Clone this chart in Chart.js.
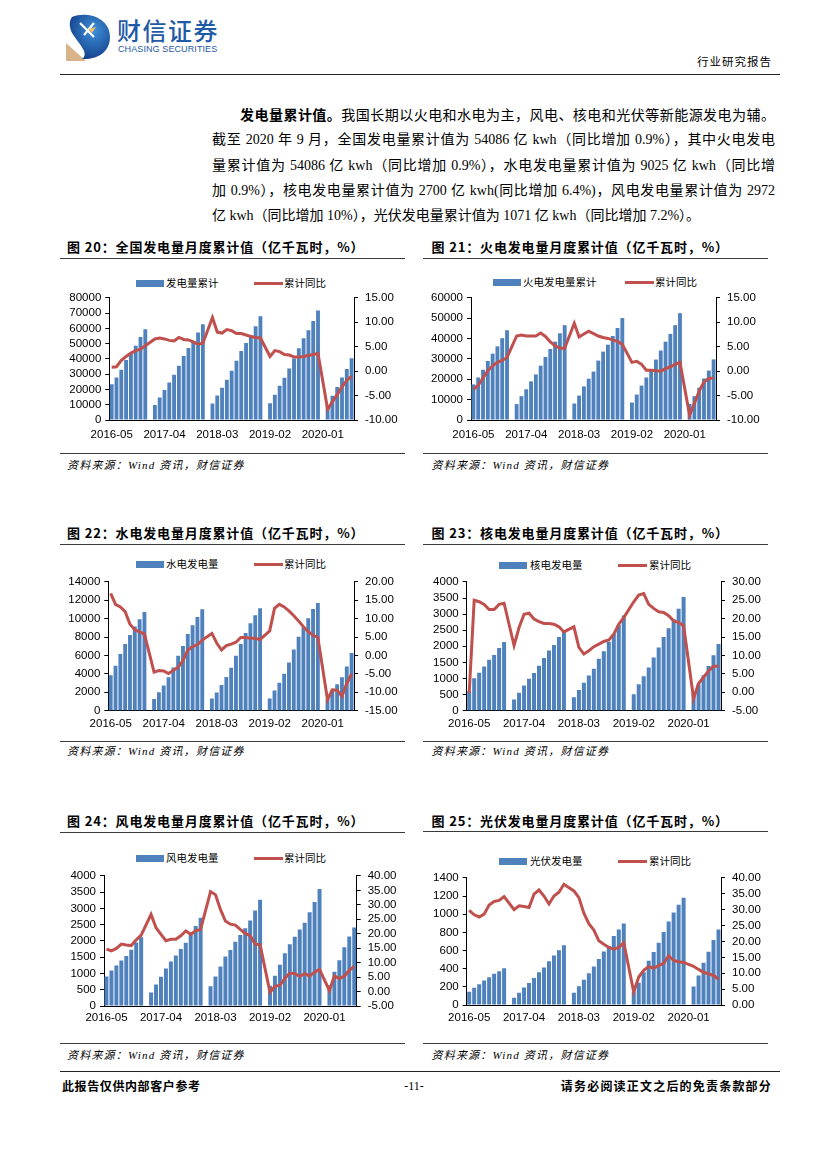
<!DOCTYPE html>
<html>
<head>
<meta charset="utf-8">
<script src="https://cdn.jsdelivr.net/npm/chart.js@4.4.0/dist/chart.umd.min.js"></script>
<style>
  body { margin: 0; background: #fff; }
  #page { position: relative; width: 827px; height: 1170px; overflow: hidden; color: #000;
          font-family: "Liberation Serif", "Noto Sans CJK SC", serif; }
  .rule { position: absolute; height: 0; border-top: 1.5px solid #3a3a3a; }
  .title { position: absolute; font-family: "Noto Sans CJK SC", sans-serif; font-weight: 700;
           font-size: 13px; letter-spacing: 0.85px; line-height: 16px; white-space: nowrap; }
  .src { position: absolute; font-family: "Liberation Serif", "Noto Sans CJK SC", serif; font-style: italic;
         font-size: 11px; letter-spacing: 1.2px; line-height: 14px; white-space: nowrap; }
  .lg { position: absolute; font-family: "Noto Sans CJK SC", sans-serif; font-size: 10.5px;
        line-height: 14px; white-space: nowrap; }
  .sw { position: absolute; }
  .para { position: absolute; left: 212px; top: 102px; width: 563px; font-size: 14px; }
  .para div { height: 25.3px; line-height: 25.3px; text-align: justify; text-align-last: justify; white-space: nowrap; }
  .para b { font-family: "Noto Sans CJK SC", sans-serif; font-weight: 700; }
  canvas { position: absolute; }
</style>
</head>
<body>
<div id="page">
  <!-- header -->
  <svg style="position:absolute;left:66px;top:13px" width="46" height="48" viewBox="0 0 46 48">
    <defs>
      <radialGradient id="lg1" cx="0.6" cy="0.35" r="0.7">
        <stop offset="0" stop-color="#3f8fd8"/>
        <stop offset="1" stop-color="#123f8a"/>
      </radialGradient>
    </defs>
    <polygon points="0,30 0,48 20,48" fill="#d9b48a"/>
    <path d="M6,4 C20,-2 44,4 44,24 C44,40 30,47 16,46 C24,40 12,30 6,20 C3,14 3,8 6,4 Z" fill="url(#lg1)"/>
    <path d="M14,10 L28,24 M28,10 L18,22" stroke="#fff" stroke-width="2.2" fill="none"/>
    <path d="M22,16 L30,14 L26,20 Z" fill="#f0c070"/>
  </svg>
  <div style="position:absolute;left:117px;top:15px;font-family:'Noto Sans CJK SC';font-size:24px;font-weight:500;letter-spacing:1.5px;color:#1f5aa6;line-height:30px">财信证券</div>
  <div style="position:absolute;left:118px;top:44px;font-family:'Liberation Sans',Arial;font-size:9px;color:#1f5aa6;line-height:11px;letter-spacing:0.1px">CHASING SECURITIES</div>
  <div style="position:absolute;right:55px;top:53px;font-family:'Noto Sans CJK SC';font-size:11.5px;line-height:16px;letter-spacing:1px">行业研究报告</div>
  <div class="rule" style="left:60px;width:720px;top:74px;border-top-width:1.6px;border-color:#222"></div>

  <div class="para">
    <div style="padding-left:28px"><b>发电量累计值。</b>我国长期以火电和水电为主，风电、核电和光伏等新能源发电为辅。</div>
    <div>截至 2020 年 9 月，全国发电量累计值为 54086 亿 kwh（同比增加 0.9%），其中火电发电</div>
    <div>量累计值为 54086 亿 kwh（同比增加 0.9%），水电发电量累计值为 9025 亿 kwh（同比增</div>
    <div>加 0.9%），核电发电量累计值为 2700 亿 kwh(同比增加 6.4%)，风电发电量累计值为 2972</div>
    <div style="text-align-last:left">亿 kwh（同比增加 10%），光伏发电量累计值为 1071 亿 kwh（同比增加 7.2%）。</div>
  </div>

  <div class="rule" style="left:60px;width:720px;top:1071px;border-color:#222"></div>
  <div style="position:absolute;left:62px;top:1078px;font-family:'Noto Sans CJK SC';font-weight:700;font-size:12px;letter-spacing:0.6px;line-height:16px">此报告仅供内部客户参考</div>
  <div style="position:absolute;left:400px;top:1078px;width:28px;text-align:center;font-size:12px;line-height:16px">-11-</div>
  <div style="position:absolute;right:55px;top:1078px;font-family:'Noto Sans CJK SC';font-weight:700;font-size:12px;letter-spacing:1.2px;line-height:16px">请务必阅读正文之后的免责条款部分</div>
</div>

<script>
const months = [
  "2016-05", "2016-06", "2016-07", "2016-08", "2016-09", "2016-10", "2016-11", "2016-12",
  "2017-01", "2017-02", "2017-03", "2017-04", "2017-05", "2017-06", "2017-07", "2017-08",
  "2017-09", "2017-10", "2017-11", "2017-12", "2018-01", "2018-02", "2018-03", "2018-04",
  "2018-05", "2018-06", "2018-07", "2018-08", "2018-09", "2018-10", "2018-11", "2018-12",
  "2019-01", "2019-02", "2019-03", "2019-04", "2019-05", "2019-06", "2019-07", "2019-08",
  "2019-09", "2019-10", "2019-11", "2019-12", "2020-01", "2020-02", "2020-03", "2020-04",
  "2020-05", "2020-06", "2020-07",
];
const LABEL_EVERY = 11; // x labels: 2016-05, 2017-04, 2018-03, 2019-02, 2020-01
const yoyName = "累计同比";
const SOURCE = "资料来源：Wind 资讯，财信证券";

// 图20 全国
const totalCum = [23400, 27800, 32900, 39300, 43900, 48700, 54400, 59500, null,
  9800, 14800, 19600, 24500, 29700, 35600, 42000, 47200, 51600, 57400, 62700, null,
  10800, 16000, 21200, 26400, 32200, 38800, 45200, 50500, 55500, 61500, 67900, null,
  10900, 16600, 22500, 27700, 33700, 40300, 47000, 53600, 58800, 64900, 71800, null,
  9800, 15900, 21700, 27800, 33400, 40500];
const totalYoy = [0.8, 0.9, 2.2, 3.0, 3.7, 4.2, 4.5, 5.2, null,
  6.6, 6.8, 6.6, 6.3, 6.2, 6.9, 6.5, 6.4, 6.0, 5.5, 5.7, null,
  11.0, 8.0, 7.8, 8.5, 8.3, 7.7, 7.7, 7.4, 7.1, 6.9, 6.8, null,
  3.0, 4.2, 4.0, 3.4, 3.3, 2.9, 2.9, 3.0, 3.2, 3.4, 3.6, null,
  -7.8, -6.3, -4.8, -3.2, -1.9, -1.0];

// 图21 火电
const thermalCum = [17500, 20900, 24700, 29000, 32600, 36200, 40200, 44100, null,
  7800, 11700, 15100, 19000, 22400, 26700, 31000, 34900, 38500, 42600, 46600, null,
  8100, 12000, 16500, 20300, 23800, 29200, 33600, 37000, 41300, 45200, 50100, null,
  8600, 12500, 16900, 20900, 24500, 29700, 34100, 38500, 42300, 46600, 52500, null,
  7900, 11700, 15900, 20400, 24300, 29800];
const thermalYoy = [-3.7, -2.9, -1.4, 0.1, 1.1, 1.8, 2.2, 2.8, null,
  7.2, 7.4, 7.2, 7.2, 7.2, 7.8, 7.1, 6.0, 5.2, 4.7, 4.7, null,
  9.8, 7.0, 7.6, 8.2, 7.7, 7.2, 6.9, 6.7, 6.4, 6.1, 5.5, null,
  1.8, 2.0, 1.4, 0.2, 0.2, 0.1, 0.0, 0.5, 0.9, 1.4, 1.8, null,
  -9.0, -6.6, -4.1, -2.2, -1.5, -1.4];

// 图22 水电
const hydroCum = [3840, 4880, 6170, 7250, 8220, 9150, 9940, 10730, null,
  1260, 2010, 2730, 3630, 4700, 5960, 7040, 8330, 9300, 10190, 11020, null,
  1330, 1970, 2800, 3660, 4670, 5960, 7250, 8440, 9510, 10370, 11130, null,
  1330, 2190, 3050, 4020, 5240, 6640, 8040, 9050, 10050, 11060, 11700, null,
  1250, 2220, 2870, 3630, 4810, 6280];
const hydroYoy = [16.9, 13.9, 13.2, 11.9, 8.5, 7.0, 6.4, 5.8, null,
  -4.5, -4.1, -4.2, -4.9, -4.1, -3.2, -1.4, 1.5, 2.4, 2.9, 4.2, null,
  6.0, 3.4, 1.5, 2.7, 3.1, 3.6, 4.9, 4.9, 4.7, 4.7, 4.3, null,
  6.7, 12.8, 13.9, 13.2, 12.1, 10.8, 9.4, 7.8, 6.5, 5.5, 4.9, null,
  -12.0, -9.3, -9.4, -11.1, -7.6, -5.0];

// 图23 核电
const nuclearCum = [600, 1005, 1180, 1370, 1580, 1730, 1950, 2130, null,
  350, 560, 780, 995, 1170, 1395, 1640, 1870, 2040, 2290, 2480, null,
  420, 640, 870, 1090, 1300, 1610, 1850, 2140, 2380, 2670, 2960, null,
  510, 820, 1070, 1340, 1650, 1960, 2290, 2560, 2840, 3170, 3530, null,
  540, 820, 1100, 1390, 1720, 2070];
const nuclearYoy = [-0.2, 25.0, 24.6, 23.9, 22.5, 22.5, 23.9, 24.2, null,
  12.7, 17.6, 21.2, 21.5, 19.9, 19.2, 18.7, 18.7, 18.5, 17.8, 16.4, null,
  17.8, 12.2, 10.4, 11.3, 12.4, 13.1, 13.8, 14.2, 15.8, 18.5, 20.3, null,
  24.6, 26.4, 26.8, 23.9, 22.8, 21.9, 21.7, 20.8, 19.4, 19.0, 18.1, null,
  -1.7, 2.4, 4.1, 5.8, 7.1, 7.1];

// 图24 风电
const windCum = [910, 1090, 1245, 1400, 1540, 1730, 1950, 2110, null,
  415, 660, 900, 1155, 1370, 1550, 1750, 1945, 2210, 2460, 2710, null,
  610, 910, 1215, 1520, 1720, 1975, 2180, 2390, 2630, 2940, 3270, null,
  620, 930, 1270, 1620, 1900, 2130, 2350, 2560, 2880, 3200, 3600, null,
  640, 1050, 1410, 1810, 2140, 2410];
const windYoy = [14.7, 14.1, 14.9, 16.4, 16.1, 15.9, 17.9, 19.5, null,
  26.7, 22.1, 19.8, 17.6, 18.1, 18.1, 19.3, 21.0, 19.8, 21.0, 21.5, null,
  34.6, 33.5, 28.4, 24.4, 23.3, 23.0, 21.5, 20.1, 19.3, 16.4, 16.2, null,
  -0.3, 1.8, 2.2, 4.5, 6.4, 6.2, 5.3, 6.2, 5.4, 6.7, 7.7, null,
  0.3, 5.4, 4.5, 5.3, 7.3, 8.7];

// 图25 光伏
const solarCum = [145, 190, 228, 271, 307, 344, 373, 405, null,
  80, 134, 192, 242, 297, 362, 412, 481, 546, 604, 658, null,
  134, 206, 279, 351, 423, 506, 590, 651, 760, 832, 897, null,
  150, 245, 362, 488, 584, 687, 803, 920, 1018, 1103, 1182, null,
  205, 326, 466, 586, 716, 832];
const solarYoy = [29.8, 28.4, 27.7, 28.6, 31.5, 32.6, 32.9, 34.1, null,
  30.0, 31.2, 31.0, 30.7, 34.9, 36.2, 34.3, 31.8, 34.3, 35.5, 38.0, null,
  35.9, 33.8, 28.9, 25.6, 23.6, 20.2, 19.1, 18.1, 17.6, 18.1, 19.6, null,
  4.1, 8.8, 10.9, 12.1, 11.6, 12.4, 13.1, 15.5, 14.0, 13.6, 13.4, null,
  12.2, 11.2, 10.3, 9.8, 9.3, 8.1];

const BAR_COLOR = "#4F81BD";
const LINE_COLOR = "#C0504D";
const tickFont = { family: "'Liberation Sans', Arial, sans-serif", size: 11.5 };

// plot = [left, top, right, bottom] of the plotting area on the page
const panels = [
  { title: "图 20：全国发电量月度累计值（亿千瓦时，%）", barName: "发电量累计", cum: totalCum, yoy: totalYoy,
    leftMax: 80000, leftStep: 10000, rMin: -10, rMax: 15, plot: [109.3, 296.7, 354, 420], xPad: 8,
    col: 0, titleY: 247, ruleTop: 258, ruleBottom: 453, srcY: 465, legendY: 283, lg: [136, 166, 254, 284] },
  { title: "图 21：火电发电量月度累计值（亿千瓦时，%）", barName: "火电发电量累计", cum: thermalCum, yoy: thermalYoy,
    leftMax: 60000, leftStep: 10000, rMin: -10, rMax: 15, plot: [471, 296.7, 716, 420], xPad: 8,
    col: 1, titleY: 247, ruleTop: 258, ruleBottom: 453, srcY: 465, legendY: 282.5, lg: [493, 523, 625, 655] },
  { title: "图 22：水电发电量月度累计值（亿千瓦时，%）", barName: "水电发电量", cum: hydroCum, yoy: hydroYoy,
    leftMax: 14000, leftStep: 2000, rMin: -15, rMax: 20, plot: [108.3, 580.7, 354, 710.7], xPad: 6.4,
    col: 0, titleY: 532.7, ruleTop: 544, ruleBottom: 740.5, srcY: 751, legendY: 564.3, lg: [136, 166, 254, 284] },
  { title: "图 23：核电发电量月度累计值（亿千瓦时，%）", barName: "核电发电量", cum: nuclearCum, yoy: nuclearYoy,
    leftMax: 4000, leftStep: 500, rMin: -5, rMax: 30, plot: [466.7, 580.7, 721, 710.7], xPad: 6.4,
    col: 1, titleY: 532.7, ruleTop: 544, ruleBottom: 740.5, srcY: 751, legendY: 565, lg: [499, 530, 618, 649] },
  { title: "图 24：风电发电量月度累计值（亿千瓦时，%）", barName: "风电发电量", cum: windCum, yoy: windYoy,
    leftMax: 4000, leftStep: 500, rMin: -5, rMax: 40, plot: [104, 874.3, 356.7, 1006], xPad: 5.4,
    col: 0, titleY: 821, ruleTop: 831.5, ruleBottom: 1043, srcY: 1055, legendY: 858.3, lg: [136, 166, 254, 284] },
  { title: "图 25：光伏发电量月度累计值（亿千瓦时，%）", barName: "光伏发电量", cum: solarCum, yoy: solarYoy,
    leftMax: 1400, leftStep: 200, rMin: 0, rMax: 40, plot: [466.7, 876, 721, 1005], xPad: 6.3,
    col: 1, titleY: 821, ruleTop: 831, ruleBottom: 1043, srcY: 1055, legendY: 861.7, lg: [499, 530, 618, 649] },
];

const page = document.getElementById("page");

function addDiv(cls, style, text) {
  const d = document.createElement("div");
  d.className = cls;
  Object.assign(d.style, style);
  if (text !== undefined) d.textContent = text;
  page.appendChild(d);
  return d;
}

function drawPanel(p) {
  const colLeft = p.col === 0 ? 60 : 423;
  const textLeft = p.col === 0 ? 67 : 431.5;

  addDiv("title", { left: textLeft + "px", top: p.titleY - 8 + "px" }, p.title);
  addDiv("rule", { left: colLeft + "px", width: "345px", top: p.ruleTop + "px" });
  addDiv("rule", { left: colLeft + "px", width: "345px", top: p.ruleBottom + "px" });
  addDiv("src", { left: textLeft + "px", top: p.srcY - 7 + "px" }, SOURCE);

  // legend
  addDiv("sw", { left: p.lg[0] + "px", top: p.legendY - 3.5 + "px", width: "28px", height: "7px", background: BAR_COLOR });
  addDiv("lg", { left: p.lg[1] + "px", top: p.legendY - 7.5 + "px" }, p.barName);
  addDiv("sw", { left: p.lg[2] + "px", top: p.legendY - 1.5 + "px", width: "29px", height: "3px", background: LINE_COLOR });
  addDiv("lg", { left: p.lg[3] + "px", top: p.legendY - 7.5 + "px" }, yoyName);

  // canvas box around the plot
  const [pl, pt, pr, pb] = p.plot;
  const boxLeft = p.col === 0 ? 60 : 420;
  const boxW = p.col === 0 ? 345 : 355;
  const boxTop = Math.floor(pt - 12);
  const boxH = Math.ceil(pb - boxTop + 34);

  const canvas = document.createElement("canvas");
  canvas.width = boxW;
  canvas.height = boxH;
  canvas.style.left = boxLeft + "px";
  canvas.style.top = boxTop + "px";
  canvas.style.width = boxW + "px";
  canvas.style.height = boxH + "px";
  page.appendChild(canvas);

  new Chart(canvas, {
    data: {
      labels: months,
      datasets: [
        {
          type: "line",
          label: yoyName,
          data: p.yoy,
          yAxisID: "y1",
          borderColor: LINE_COLOR,
          borderWidth: 3,
          pointRadius: 0,
          tension: 0,
          spanGaps: true,
          order: 0,
        },
        {
          type: "bar",
          label: p.barName,
          data: p.cum,
          yAxisID: "y",
          backgroundColor: BAR_COLOR,
          barPercentage: 0.8,
          categoryPercentage: 1.0,
          order: 1,
        },
      ],
    },
    options: {
      responsive: false,
      animation: false,
      layout: { padding: { top: pt - boxTop, left: 0, right: 0, bottom: 0 } },
      plugins: { legend: { display: false }, tooltip: { enabled: false } },
      scales: {
        x: {
          offset: true,
          grid: { display: false, drawTicks: false },
          border: { display: true, color: "#000", width: 1 },
          ticks: {
            autoSkip: false,
            maxRotation: 0,
            minRotation: 0,
            padding: p.xPad,
            font: tickFont,
            color: "#000",
            callback: (v, i) => (i % LABEL_EVERY === 0 ? months[i] : ""),
          },
          afterFit: (s) => { s.height = boxTop + boxH - pb; },
        },
        y: {
          position: "left",
          min: 0,
          max: p.leftMax,
          grid: { drawOnChartArea: false, drawTicks: true, tickLength: 4, color: "#000" },
          border: { display: true, color: "#000", width: 1 },
          ticks: { stepSize: p.leftStep, autoSkip: false, padding: 4, font: tickFont, color: "#000",
                   callback: (v) => String(v) },
          afterFit: (s) => { s.width = pl - boxLeft; },
        },
        y1: {
          position: "right",
          min: p.rMin,
          max: p.rMax,
          grid: { drawOnChartArea: false, drawTicks: true, tickLength: 4, color: "#000" },
          border: { display: true, color: "#000", width: 1 },
          ticks: { stepSize: 5, autoSkip: false, padding: 7, font: tickFont, color: "#000",
                   callback: (v) => v.toFixed(2) },
          afterFit: (s) => { s.width = boxLeft + boxW - pr; },
        },
      },
    },
  });
}

panels.forEach(drawPanel);
</script>
</body>
</html>
